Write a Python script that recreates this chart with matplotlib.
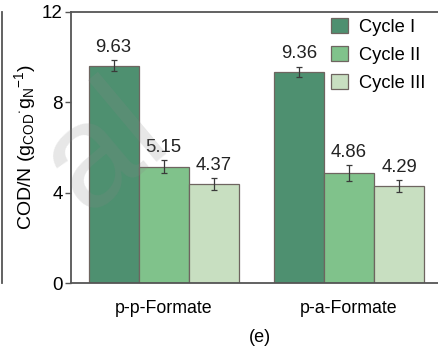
import matplotlib
matplotlib.use("Agg")
import matplotlib.pyplot as plt
import numpy as np
from matplotlib.lines import Line2D

plt.rcParams['font.family'] = ['Liberation Sans', 'DejaVu Sans']
plt.rcParams['mathtext.fontset'] = 'custom'
plt.rcParams['mathtext.rm'] = 'Liberation Sans'
plt.rcParams['mathtext.it'] = 'Liberation Sans'

# Данные
groups = ['p-p-Formate', 'p-a-Formate']
cycles = ['Cycle I', 'Cycle II', 'Cycle III']
cycle1 = [9.63, 9.36]
cycle2 = [5.15, 4.86]
cycle3 = [4.37, 4.29]
err1 = [0.25, 0.22]
err2 = [0.30, 0.35]
err3 = [0.27, 0.27]
colors = ['#4e9070', '#80c28b', '#c8dfc1']

fig = plt.figure(figsize=(4.38, 3.52), dpi=100)
# ось выходит за правый край рисунка
ax = fig.add_axes([71 / 438, 69 / 352, 374 / 438, 271 / 352])

x = np.arange(len(groups))
w = 0.27
spine_col = '#555555'
for i, (vals, errs) in enumerate(zip([cycle1, cycle2, cycle3], [err1, err2, err3])):
    pos = x + (i - 1) * w
    ax.bar(pos, vals, w, color=colors[i], edgecolor='#6e6560', linewidth=0.9,
           label=cycles[i], zorder=2)
    ax.errorbar(pos, vals, yerr=errs, fmt='none', ecolor='#3a3a3a',
                elinewidth=0.9, capsize=2.2, capthick=0.9, zorder=3)
    for p, v, e in zip(pos, vals, errs):
        ax.annotate(f'{v:.2f}', (p, v + e), xytext=(0, 3), textcoords='offset points',
                    ha='center', va='bottom', fontsize=13.3, color='#222222')

ax.set_xlim(-0.5, 1.5175)
ax.set_ylim(0, 12)
ax.set_yticks([0, 4, 8, 12])
ax.set_xticks(x)
ax.set_xticklabels(groups, fontsize=12.8)
ax.tick_params(axis='x', length=0, pad=12)
ax.tick_params(axis='y', direction='out', length=4, width=1, labelsize=13.5,
               color=spine_col, pad=2)
for side in ['left', 'top', 'bottom']:
    ax.spines[side].set_color(spine_col)
    ax.spines[side].set_linewidth(1.3)
ax.spines['right'].set_visible(False)

ax.set_ylabel(r'COD/N (g$_{\rm COD}$$^{\cdot}$g$_{\rm N}$$^{-1}$)', fontsize=14, labelpad=3)

ax.legend(loc='upper left', bbox_to_anchor=(331 / 438, 1 - 18 / 352),
          bbox_transform=fig.transFigure, frameon=False, fontsize=13.2,
          handlelength=0.9, handleheight=0.9, handletextpad=0.65,
          labelspacing=0.55, borderpad=0, borderaxespad=0)

fig.text(260 / 438, 1 - 337 / 352, '(e)', ha='center', va='center', fontsize=13)

# край соседней панели слева
fig.add_artist(Line2D([2 / 438, 2 / 438], [1 - 12 / 352, 1 - 283 / 352],
                      color=spine_col, linewidth=1.3))

# водяной знак
fig.text(105 / 438, 1 - 150 / 352, 'al', rotation=40, fontsize=105, color='#888888',
         alpha=0.2, ha='center', va='center', zorder=10)

fig.savefig('out.png', dpi=100)
